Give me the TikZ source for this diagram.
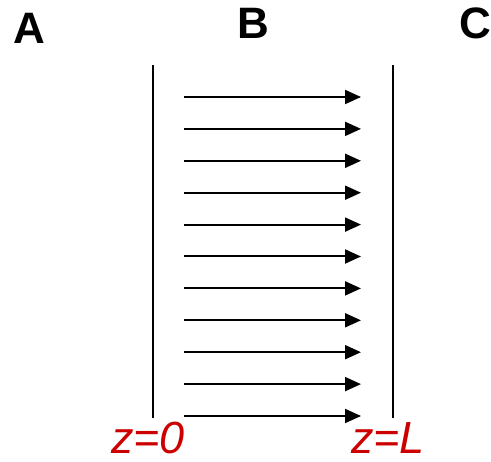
\documentclass[tikz,border=0pt]{standalone}
\usepackage{fontspec}
\setmainfont{Liberation Sans}
\usepackage{xcolor}
\usepackage{tikz}
\usetikzlibrary{arrows.meta}
\definecolor{zred}{RGB}{204,0,0}
\tikzset{
  region/.style={font=\fontsize{44}{44}\selectfont\bfseries, inner sep=0pt, anchor=base west},
  zlabel/.style={font=\fontsize{45}{45}\selectfont\itshape, text=zred, inner sep=0pt, anchor=base west},
  wall/.style={line width=2pt},
  flux/.style={line width=2pt, -{Triangle[length=16pt,width=14pt]}}
}

\begin{document}
\begin{tikzpicture}[x=1pt, y=-1pt]
    \useasboundingbox (0,0) rectangle (491,462);
    % the three regions
    \node[region] (A) at (13,44) {A};
    \node[region] (B) at (237,39) {B};
    \node[region] (C) at (459,39) {C};
    % boundaries at z=0 and z=L
    \coordinate (w0top) at (152.5,65);
    \coordinate (w0bot) at (152.5,418);
    \coordinate (wLtop) at (392.5,65);
    \coordinate (wLbot) at (392.5,418);
    \draw[wall] (w0top) -- (w0bot);
    \draw[wall] (wLtop) -- (wLbot);
    % flow through B
    \foreach \i in {0,...,10} {
        \coordinate (s\i) at (184,{97+31.9*\i});
        \coordinate (t\i) at (361,{97+31.9*\i});
        \draw[flux] (s\i) -- (t\i);
    }
    \node[zlabel] (z0) at (111,454) {z=0};
    \node[zlabel] (zL) at (351,454) {z=L};
\end{tikzpicture}
\end{document}
